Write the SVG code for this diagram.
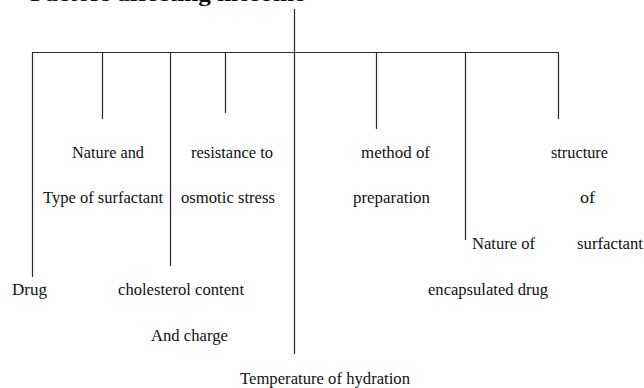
<svg xmlns="http://www.w3.org/2000/svg" width="644" height="388" viewBox="0 0 644 388">
<style>
.t{font-family:"Liberation Serif","Times New Roman",serif;font-size:17px;fill:#111}
.h{font-family:"Liberation Serif","Times New Roman",serif;font-size:21px;font-weight:bold;fill:#111}
.c line{stroke:#2a2a2a;stroke-width:1.2;fill:none}
</style>
<rect width="644" height="388" fill="#fff"/>
<text class="h" x="30" y="0.5" textLength="275" lengthAdjust="spacingAndGlyphs">Factors affecting niosome</text>
<g id="connectors" class="c">
<line x1="294.5" y1="9" x2="294.5" y2="354"/>
<line x1="32" y1="52.5" x2="558.5" y2="52.5"/>
<line x1="32.5" y1="52" x2="32.5" y2="277"/>
<line x1="102.5" y1="52" x2="102.5" y2="119"/>
<line x1="170.5" y1="52" x2="170.5" y2="266"/>
<line x1="225.5" y1="52" x2="225.5" y2="113"/>
<line x1="376.5" y1="52" x2="376.5" y2="129"/>
<line x1="465.5" y1="52" x2="465.5" y2="240"/>
<line x1="558.5" y1="52" x2="558.5" y2="119"/>
</g>
<g id="surfactant-type">
<text class="t" x="72" y="158" textLength="72" lengthAdjust="spacingAndGlyphs">Nature and</text>
<text class="t" x="43" y="203" textLength="120" lengthAdjust="spacingAndGlyphs">Type of surfactant</text>
</g>
<g id="osmotic">
<text class="t" x="191" y="158" textLength="82" lengthAdjust="spacingAndGlyphs">resistance to</text>
<text class="t" x="181" y="203" textLength="94" lengthAdjust="spacingAndGlyphs">osmotic stress</text>
</g>
<g id="method">
<text class="t" x="361" y="158" textLength="69" lengthAdjust="spacingAndGlyphs">method of</text>
<text class="t" x="353" y="203" textLength="77" lengthAdjust="spacingAndGlyphs">preparation</text>
</g>
<g id="structure">
<text class="t" x="551" y="158" textLength="57" lengthAdjust="spacingAndGlyphs">structure</text>
<text class="t" x="580" y="203" textLength="15" lengthAdjust="spacingAndGlyphs">of</text>
<text class="t" x="577" y="249" textLength="66" lengthAdjust="spacingAndGlyphs">surfactant</text>
</g>
<g id="encapsulated">
<text class="t" x="472" y="249" textLength="63" lengthAdjust="spacingAndGlyphs">Nature of</text>
<text class="t" x="428" y="295" textLength="120" lengthAdjust="spacingAndGlyphs">encapsulated drug</text>
</g>
<g id="drug">
<text class="t" x="12" y="295" textLength="35" lengthAdjust="spacingAndGlyphs">Drug</text>
</g>
<g id="cholesterol">
<text class="t" x="118" y="295" textLength="126" lengthAdjust="spacingAndGlyphs">cholesterol content</text>
<text class="t" x="151" y="341" textLength="77" lengthAdjust="spacingAndGlyphs">And charge</text>
</g>
<g id="temperature">
<text class="t" x="240" y="384" textLength="170" lengthAdjust="spacingAndGlyphs">Temperature of hydration</text>
</g>
</svg>
